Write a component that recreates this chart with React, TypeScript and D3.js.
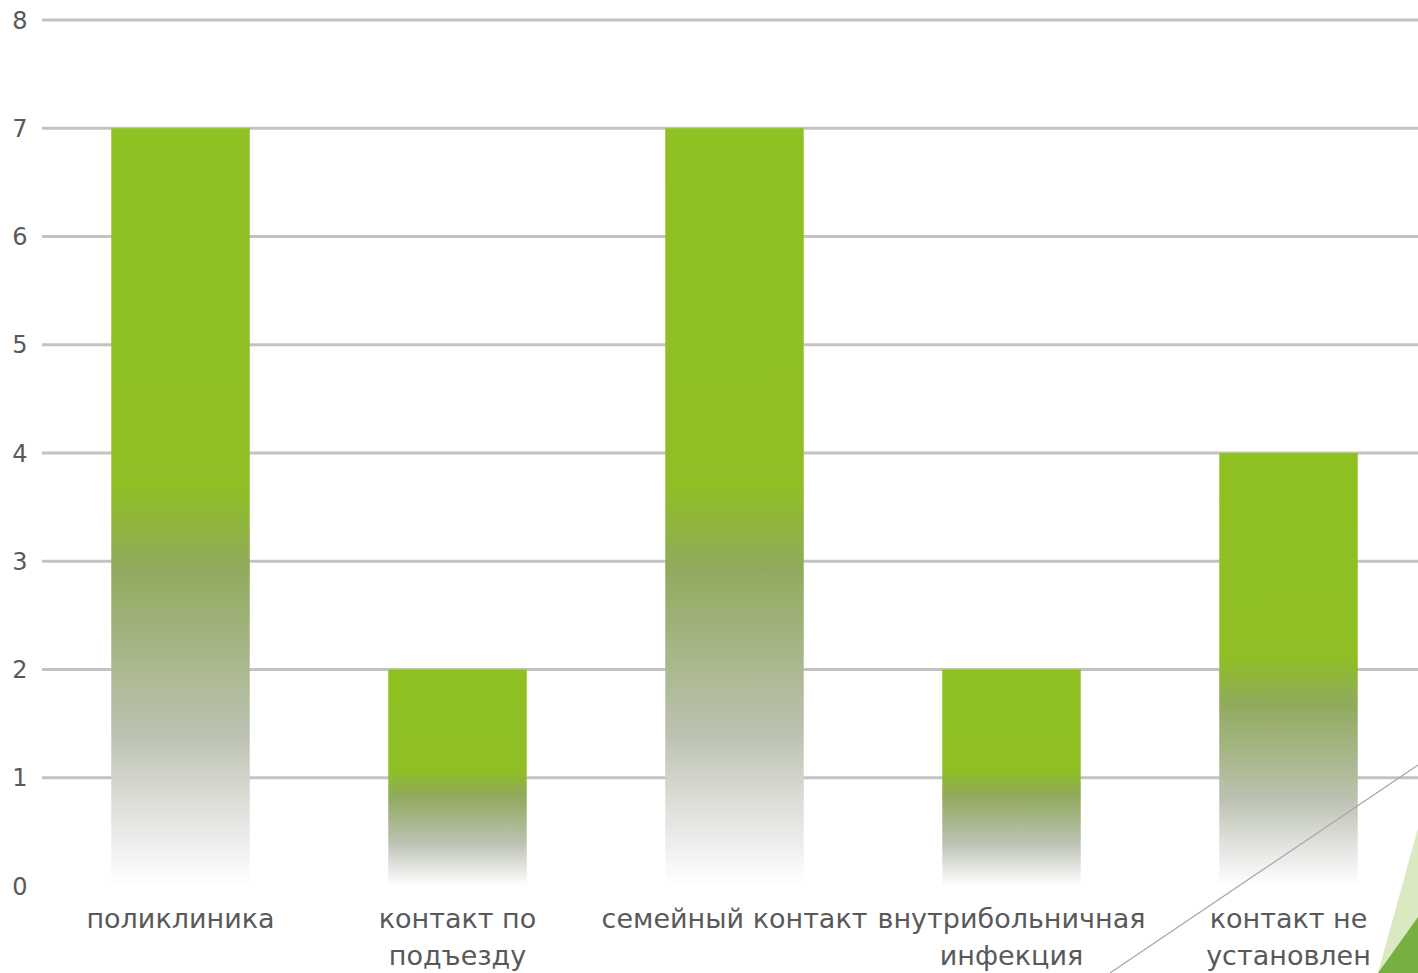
import React from "react";
import * as d3 from "d3";

const categories: string[][] = [
  ["поликлиника"],
  ["контакт по", "подъезду"],
  ["семейный контакт"],
  ["внутрибольничная", "инфекция"],
  ["контакт не", "установлен"],
];
const values: number[] = [7, 2, 7, 2, 4];
const yTicks: number[] = [0, 1, 2, 3, 4, 5, 6, 7, 8];

const W = 1418;
const H = 973;

export default function App() {
  const x = d3
    .scaleBand<number>()
    .domain(values.map((_, i) => i))
    .range([42, 1427])
    .paddingInner(0.5)
    .paddingOuter(0.25);
  const y = d3.scaleLinear().domain([0, 8]).range([886, 20]);
  const font = "'DejaVu Sans', sans-serif";
  return (
    <svg
      width={W}
      height={H}
      style={{ position: "absolute", left: 0, top: 0, background: "#fff" }}
    >
      <defs>
        <linearGradient id="barGrad" x1="0" y1="0" x2="0" y2="1">
          <stop offset="0" stopColor="#8fc122" />
          <stop offset="0.47" stopColor="#8fbf24" />
          <stop offset="0.58" stopColor="#90aa5c" />
          <stop offset="0.8" stopColor="#bcc2b2" />
          <stop offset="0.92" stopColor="#e6e7e4" />
          <stop offset="1" stopColor="#ffffff" />
        </linearGradient>
      </defs>
      {yTicks
        .filter((t) => t > 0)
        .map((t) => (
          <line
            key={"g" + t}
            x1={42}
            x2={W}
            y1={y(t)}
            y2={y(t)}
            stroke="#c3c3c3"
            strokeWidth={3}
          />
        ))}
      {yTicks.map((t) => (
        <text
          key={"t" + t}
          x={20}
          y={y(t)}
          dy="0.36em"
          textAnchor="middle"
          fontFamily={font}
          fontSize={24}
          fill="#595959"
        >
          {t}
        </text>
      ))}
      {values.map((v, i) => (
        <rect
          key={"b" + i}
          x={x(i)}
          y={y(v)}
          width={x.bandwidth()}
          height={y(0) - y(v)}
          fill="url(#barGrad)"
        />
      ))}
      {categories.map((lines, i) => (
        <text
          key={"c" + i}
          textAnchor="middle"
          fontFamily={font}
          fontSize={27}
          fill="#595959"
        >
          {lines.map((ln, j) => (
            <tspan key={j} x={(x(i) as number) + x.bandwidth() / 2} y={928 + j * 37}>
              {ln}
            </tspan>
          ))}
        </text>
      ))}
      <line x1={1110} y1={973} x2={1418} y2={765} stroke="#a6a6a6" strokeWidth={1.2} />
      <polygon points="1418,828 1378,973 1418,973" fill="#dbe9c0" />
      <polygon points="1378,973 1418,917 1418,973" fill="#76b043" />
    </svg>
  );
}
